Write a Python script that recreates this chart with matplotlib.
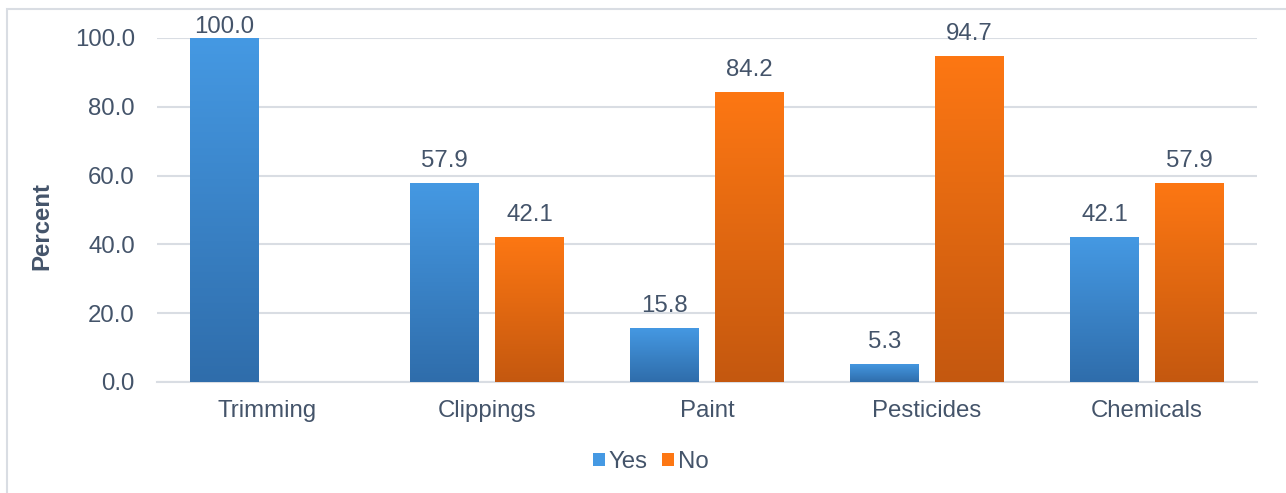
import matplotlib
matplotlib.use("Agg")
import matplotlib.pyplot as plt
import numpy as np
from matplotlib.colors import LinearSegmentedColormap
from matplotlib.patches import Rectangle, Patch
import matplotlib.patheffects as pe

categories = ["Trimming", "Clippings", "Paint", "Pesticides", "Chemicals"]
yes_vals = [100.0, 57.9, 15.8, 5.3, 42.1]
no_vals = [None, 42.1, 84.2, 94.7, 57.9]
series_names = ["Yes", "No"]
y_ticks = [0, 20, 40, 60, 80, 100]

plt.rcParams['font.family'] = ['Liberation Sans', 'DejaVu Sans']
TXT = '#44546a'
GRID = '#d9dde3'
FS = 17.3
blue_top, blue_bot = '#4599e3', '#2f6dab'
orng_top, orng_bot = '#fd7713', '#c4580f'

W, H = 1286, 493
fig = plt.figure(figsize=(W / 100, H / 100), dpi=100)
ax = fig.add_axes([157 / W, 1 - 382 / H, (1257 - 157) / W, (382 - 38) / H])

# outer chart border (top and left visible)
fig.patches.append(Rectangle((7 / W, -0.1), 1.2, (1 - 9 / H) + 0.1, transform=fig.transFigure,
                             fill=False, edgecolor='#d9dde3', linewidth=1.5, zorder=0))

x = np.arange(len(categories))
bw = 0.313
off = 0.193

def grad_bar(xc, h, top, bot):
    if h is None:
        return
    cmap = LinearSegmentedColormap.from_list('g', [bot, top])
    rect = Rectangle((xc - bw / 2, 0), bw, h, facecolor='none', edgecolor='none', zorder=3)
    ax.add_patch(rect)
    sh = Rectangle((xc - bw / 2, 0), bw, h, facecolor='#bbbbbb', edgecolor='none', zorder=2,
                   path_effects=[pe.SimplePatchShadow(offset=(0, -1.5), shadow_rgbFace='#999999', alpha=0.5)])
    ax.add_patch(sh)
    grad = np.linspace(0, 1, 256).reshape(-1, 1)
    im = ax.imshow(grad, extent=(xc - bw / 2, xc + bw / 2, 0, h), origin='lower',
                   cmap=cmap, aspect='auto', zorder=3, interpolation='bilinear')
    im.set_clip_path(rect)
    dy = 8 if h < 98 else 0
    ax.annotate(f"{h:.1f}", (xc, h), xytext=(0, dy), textcoords='offset points',
                ha='center', va='bottom', fontsize=FS, color=TXT, zorder=5)

for i in range(len(categories)):
    grad_bar(x[i] - off, yes_vals[i], blue_top, blue_bot)
    grad_bar(x[i] + off, no_vals[i], orng_top, orng_bot)

ax.set_xlim(-0.5, len(categories) - 0.5)
ax.set_ylim(0, 100)
ax.set_yticks(y_ticks)
ax.set_yticklabels([f"{v:.1f}" for v in y_ticks])
ax.set_xticks(x)
ax.set_xticklabels(categories)
ax.tick_params(axis='both', length=0, labelsize=FS, labelcolor=TXT)
ax.tick_params(axis='y', pad=16)
ax.tick_params(axis='x', pad=13)
ax.yaxis.grid(True, color=GRID, linewidth=1.5, zorder=0)
ax.set_axisbelow(True)
for s in ax.spines.values():
    s.set_visible(False)
ax.spines['bottom'].set_visible(True)
ax.spines['bottom'].set_color(GRID)
ax.spines['bottom'].set_linewidth(1.5)

fig.text(42 / W, 1 - 226 / H, "Percent", rotation=90, ha='center', va='center',
         fontsize=FS, fontweight='bold', color=TXT)

handles = [Patch(facecolor=blue_top, edgecolor='none'), Patch(facecolor=orng_top, edgecolor='none')]
leg = fig.legend(handles, series_names, loc='center', bbox_to_anchor=(651 / W, 1 - 462 / H),
                 ncol=2, frameon=False, fontsize=FS, handlelength=0.5, handleheight=0.5,
                 handletextpad=0.15, columnspacing=0.6, labelcolor=TXT)

fig.savefig("out.png", dpi=100, facecolor='white')
